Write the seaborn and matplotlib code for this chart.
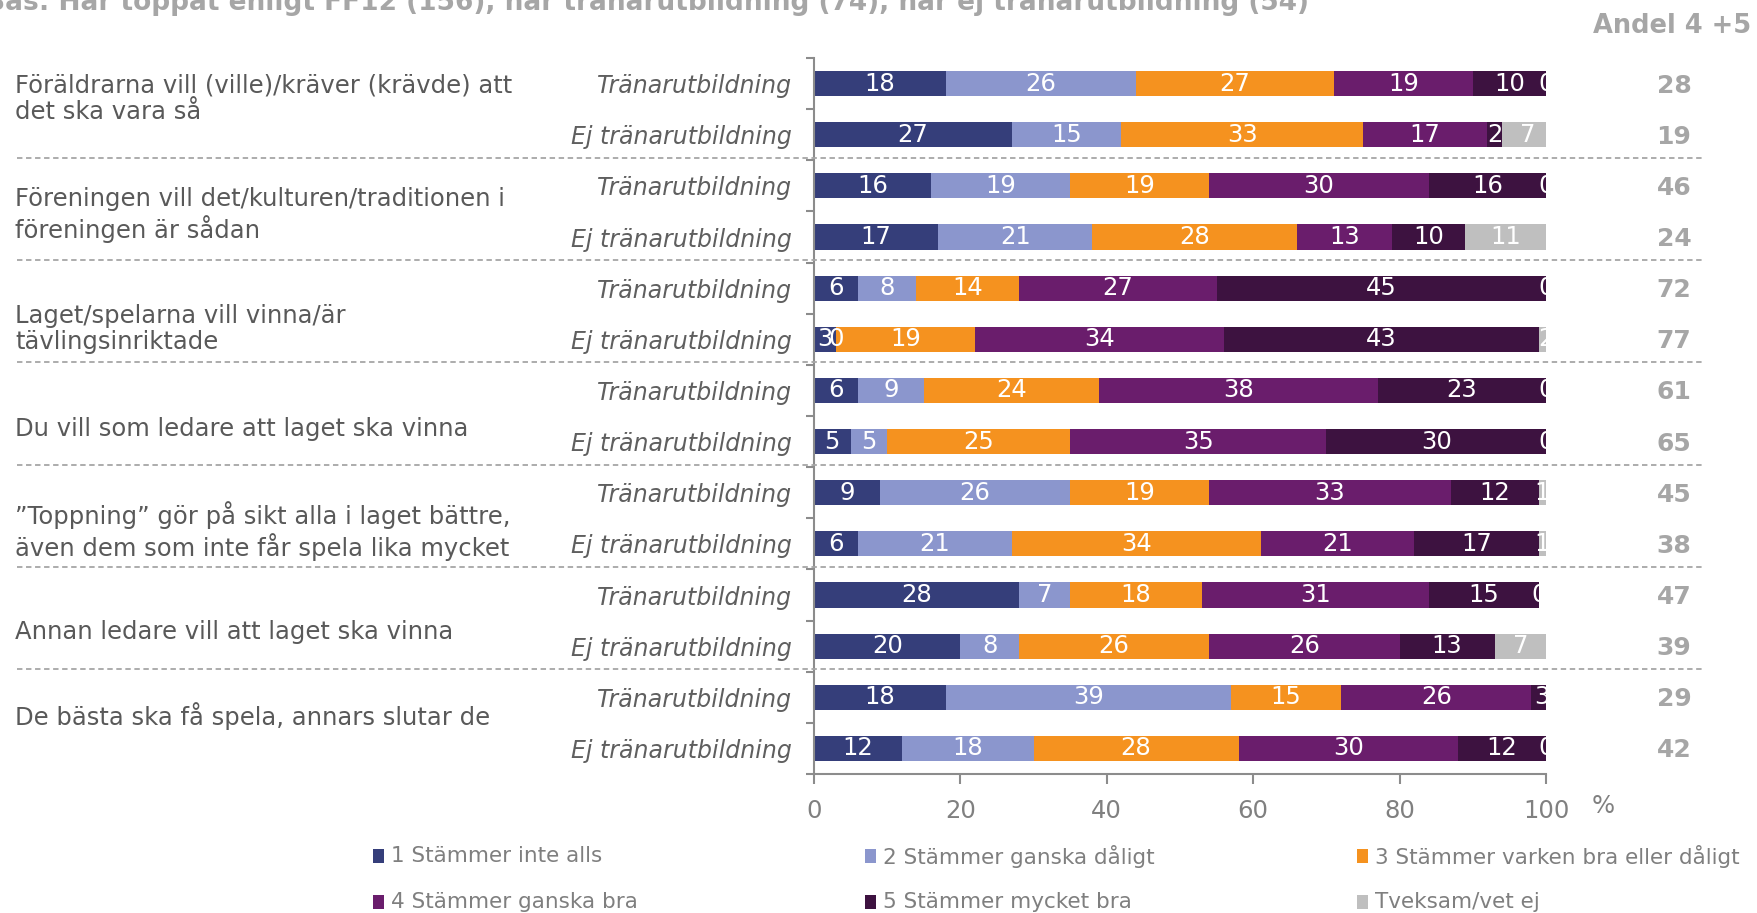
import numpy as np
import pandas as pd
import matplotlib
matplotlib.use("Agg")
import matplotlib.pyplot as plt
import seaborn as sns
from matplotlib.transforms import blended_transform_factory
from matplotlib.lines import Line2D
from matplotlib.patches import Rectangle

# ---------------- data ----------------
title = "Bas: Har toppat enligt FF12 (156), har tränarutbildning (74), har ej tränarutbildning (54)"
andel_title = "Andel 4 +5"
statements = [
    "Föräldrarna vill (ville)/kräver (krävde) att\ndet ska vara så",
    "Föreningen vill det/kulturen/traditionen i\nföreningen är sådan",
    "Laget/spelarna vill vinna/är\ntävlingsinriktade",
    "Du vill som ledare att laget ska vinna",
    "”Toppning” gör på sikt alla i laget bättre,\näven dem som inte får spela lika mycket",
    "Annan ledare vill att laget ska vinna",
    "De bästa ska få spela, annars slutar de",
]
groups = ["Tränarutbildning", "Ej tränarutbildning"]
series = ["1 Stämmer inte alls", "2 Stämmer ganska dåligt",
          "3 Stämmer varken bra eller dåligt", "4 Stämmer ganska bra",
          "5 Stämmer mycket bra", "Tveksam/vet ej"]
s1 = [18, 27, 16, 17, 6, 3, 6, 5, 9, 6, 28, 20, 18, 12]
s2 = [26, 15, 19, 21, 8, 0, 9, 5, 26, 21, 7, 8, 39, 18]
s3 = [27, 33, 19, 28, 14, 19, 24, 25, 19, 34, 18, 26, 15, 28]
s4 = [19, 17, 30, 13, 27, 34, 38, 35, 33, 21, 31, 26, 26, 30]
s5 = [10, 2, 16, 10, 45, 43, 23, 30, 12, 17, 15, 13, 3, 12]
s6 = [0, 7, 0, 11, 0, 2, 0, 0, 1, 1, 0, 7, 0, 0]
andel = [28, 19, 46, 24, 72, 77, 61, 65, 45, 38, 47, 39, 29, 42]
xticks = [0, 20, 40, 60, 80, 100]

colors = ["#353E7A", "#8B96CD", "#F5921F", "#6A1D6C", "#3D1240", "#BFBFBF"]

# ---------------- style ----------------
sns.set_theme(style="white")
plt.rcParams["font.family"] = ["DejaVu Sans"]

W, H = 1758, 913
fig = plt.figure(figsize=(W / 100, H / 100), dpi=100)
ax_l, ax_r, ax_t, ax_b = 814, 1546, 58, 774
ax = fig.add_axes([ax_l / W, 1 - ax_b / H, (ax_r - ax_l) / W, (ax_b - ax_t) / H])

values = np.array([s1, s2, s3, s4, s5, s6], dtype=float)
n_rows = values.shape[1]
row_ids = [f"r{i:02d}" for i in range(n_rows)]
cum = np.cumsum(values, axis=0)

df = pd.DataFrame({"row": row_ids})
for k in range(len(series)):
    df[f"c{k}"] = cum[k]

# seaborn stacked bars: draw cumulative totals from last to first
for k in range(len(series) - 1, -1, -1):
    sns.barplot(data=df, x=f"c{k}", y="row", order=row_ids, orient="h",
                color=colors[k], saturation=1, width=0.49, errorbar=None,
                linewidth=0, ax=ax)

ax.set_xlim(0, 100)
ax.set_ylim(n_rows - 0.5, -0.5)
ax.set_xlabel("")
ax.set_ylabel("")

# segment labels (labels lying wholly past the plot edge are invisible, skip them)
for i in range(n_rows):
    left = 0
    for k in range(len(series)):
        v = values[k, i]
        xc = left + v / 2
        if xc <= 100.2:
            ax.text(xc, i, f"{int(v)}", ha="center", va="center",
                    color="white", fontsize=17.5, clip_on=True)
        left += v

# axes styling
grey = "#8C8C8C"
for side in ["top", "right"]:
    ax.spines[side].set_visible(False)
for side in ["left", "bottom"]:
    ax.spines[side].set_color(grey)
    ax.spines[side].set_linewidth(1.5)

ax.set_xticks(xticks)
ax.set_xticklabels([str(t) for t in xticks], fontsize=17.5, color="#808080")
ax.tick_params(axis="x", direction="out", length=7, width=1.5, color=grey, pad=11, bottom=True)

ax.set_yticks(np.arange(-0.5, n_rows, 1.0))
ax.set_yticklabels([])
ax.set_yticks(np.arange(n_rows), minor=True)
ax.set_yticklabels([groups[i % 2] for i in range(n_rows)], minor=True,
                   fontsize=17, color="#5F5F5F", style="italic")
ax.tick_params(axis="y", which="major", direction="out", length=6, width=1.5, color=grey, left=True)
ax.tick_params(axis="y", which="minor", length=0, pad=16, left=True)

# "%" unit label
fig.text(1603 / W, 1 - 806 / H, "%", ha="center", va="center", fontsize=17.5, color="#808080")

# statement labels on the left
stmt_y = [99, 215, 329, 429, 531, 632, 716]
for s, y in zip(statements, stmt_y):
    fig.text(15 / W, 1 - y / H, s, ha="left", va="center", fontsize=17.5, color="#595959",
             linespacing=1.15)

# dashed separators
tr = blended_transform_factory(fig.transFigure, ax.transData)
for g in range(len(statements) - 1):
    y = 2 * g + 1.5 - 0.05
    fig.add_artist(Line2D([17 / W, 1704 / W], [y, y], transform=tr, color="#A6A6A6",
                          lw=1.3, linestyle=(0, (3, 2))))

# Andel 4+5 column
for i, a in enumerate(andel):
    fig.text(1674 / W, i + 0.04, f"{a}", transform=tr, ha="center", va="center",
             fontsize=18, fontweight="bold", color="#A6A6A6")
fig.text(1751 / W, 1 - 26 / H, andel_title, ha="right", va="center",
         fontsize=18.5, fontweight="bold", color="#A6A6A6")

# title (partly cut at the top-left like the reference)
fig.text(1309 / W, 1 - 10 / H, title, ha="right", va="baseline",
         fontsize=19, fontweight="bold", color="#A6A6A6")

# legend (manual, 2 rows x 3 columns)
leg_x = [373, 865, 1357]
leg_y = [856, 902]
for k, name in enumerate(series):
    col = k % 3
    row = k // 3
    x0 = leg_x[col]
    yc = leg_y[row]
    fig.add_artist(Rectangle((x0 / W, 1 - (yc + 7) / H), 11 / W, 14 / H,
                             transform=fig.transFigure, facecolor=colors[k],
                             edgecolor="none"))
    fig.text((x0 + 18) / W, 1 - yc / H, name, ha="left", va="center",
             fontsize=15.5, color="#7F7F7F")

fig.savefig("out.png", dpi=100)
